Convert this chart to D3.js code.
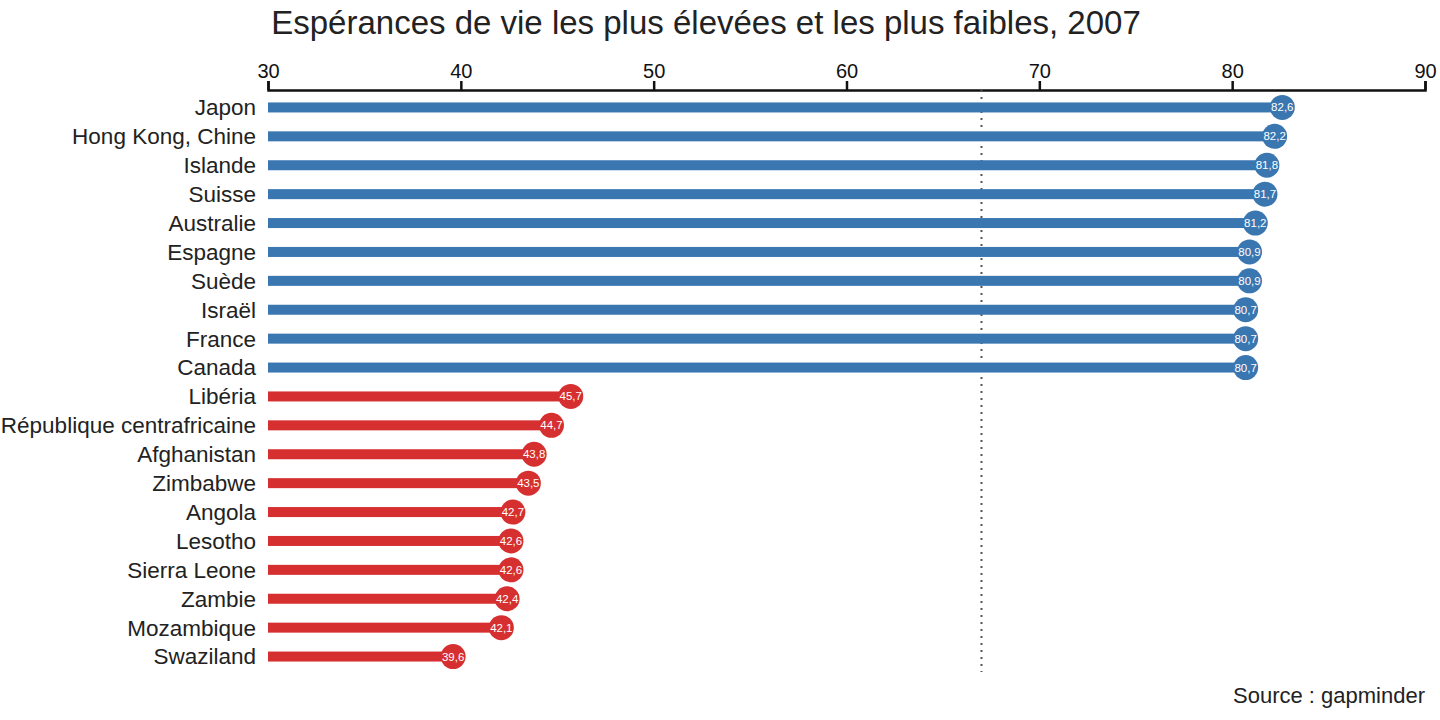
<!DOCTYPE html>
<html><head><meta charset="utf-8">
<script src="https://cdn.jsdelivr.net/npm/d3@7"></script>
<style>body{margin:0;background:#fff;font-family:"Liberation Sans",Arial,sans-serif}</style>
</head><body><svg id="chart" width="1440" height="720"></svg>
<script>
var data = [
  {pays: "Japon", vie: 82.6, groupe: "haut"},
  {pays: "Hong Kong, Chine", vie: 82.2, groupe: "haut"},
  {pays: "Islande", vie: 81.8, groupe: "haut"},
  {pays: "Suisse", vie: 81.7, groupe: "haut"},
  {pays: "Australie", vie: 81.2, groupe: "haut"},
  {pays: "Espagne", vie: 80.9, groupe: "haut"},
  {pays: "Suède", vie: 80.9, groupe: "haut"},
  {pays: "Israël", vie: 80.7, groupe: "haut"},
  {pays: "France", vie: 80.7, groupe: "haut"},
  {pays: "Canada", vie: 80.7, groupe: "haut"},
  {pays: "Libéria", vie: 45.7, groupe: "bas"},
  {pays: "République centrafricaine", vie: 44.7, groupe: "bas"},
  {pays: "Afghanistan", vie: 43.8, groupe: "bas"},
  {pays: "Zimbabwe", vie: 43.5, groupe: "bas"},
  {pays: "Angola", vie: 42.7, groupe: "bas"},
  {pays: "Lesotho", vie: 42.6, groupe: "bas"},
  {pays: "Sierra Leone", vie: 42.6, groupe: "bas"},
  {pays: "Zambie", vie: 42.4, groupe: "bas"},
  {pays: "Mozambique", vie: 42.1, groupe: "bas"},
  {pays: "Swaziland", vie: 39.6, groupe: "bas"}
];
var moyenne = 67.0;
var couleur = {haut: "#3a76b0", bas: "#d62f2f"};

var svg = d3.select("#chart");
var x = d3.scaleLinear().domain([30, 90]).range([268, 1425]);
var y = d3.scaleBand().domain(data.map(d => d.pays)).range([93, 671]).padding(0);

svg.append("text").attr("x", 706).attr("y", 34).attr("text-anchor", "middle")
  .style("font-size", "33px").attr("fill", "#222")
  .text("Espérances de vie les plus élevées et les plus faibles, 2007");

var axe = svg.append("g").attr("transform", "translate(0,90)")
  .call(d3.axisTop(x).ticks(6).tickSizeOuter(0).tickSize(9));
axe.select(".domain").attr("stroke", "#111").attr("stroke-width", 2.5);
axe.selectAll(".tick line").attr("stroke", "#111").attr("stroke-width", 2.5);
axe.selectAll("text").style("font-size", "20px").attr("fill", "#111")
  .attr("font-family", "Liberation Sans, Arial, sans-serif");

svg.append("line").attr("x1", x(moyenne)).attr("x2", x(moyenne))
  .attr("y1", 90).attr("y2", 672)
  .attr("stroke", "#555").attr("stroke-width", 2).attr("stroke-dasharray", "2,5");

var rangs = svg.selectAll(".rang").data(data).enter().append("g")
  .attr("transform", d => "translate(0," + (y(d.pays) + y.bandwidth() / 2) + ")");

rangs.append("rect").attr("x", x(30)).attr("y", -5)
  .attr("width", d => x(d.vie) - x(30)).attr("height", 10)
  .attr("fill", d => couleur[d.groupe]);
rangs.append("circle").attr("cx", d => x(d.vie)).attr("r", 12.5)
  .attr("fill", d => couleur[d.groupe]);
rangs.append("text").attr("x", d => x(d.vie)).attr("dy", "0.35em")
  .attr("text-anchor", "middle").attr("fill", "#fff").style("font-size", "11.5px")
  .text(d => d3.format(".1f")(d.vie).replace(".", ","));
rangs.append("text").attr("x", 256).attr("dy", "0.35em")
  .attr("text-anchor", "end").attr("fill", "#222").style("font-size", "22.5px")
  .text(d => d.pays);

svg.append("text").attr("x", 1425).attr("y", 703).attr("text-anchor", "end")
  .style("font-size", "22px").attr("fill", "#222").text("Source : gapminder");
</script></body></html>
